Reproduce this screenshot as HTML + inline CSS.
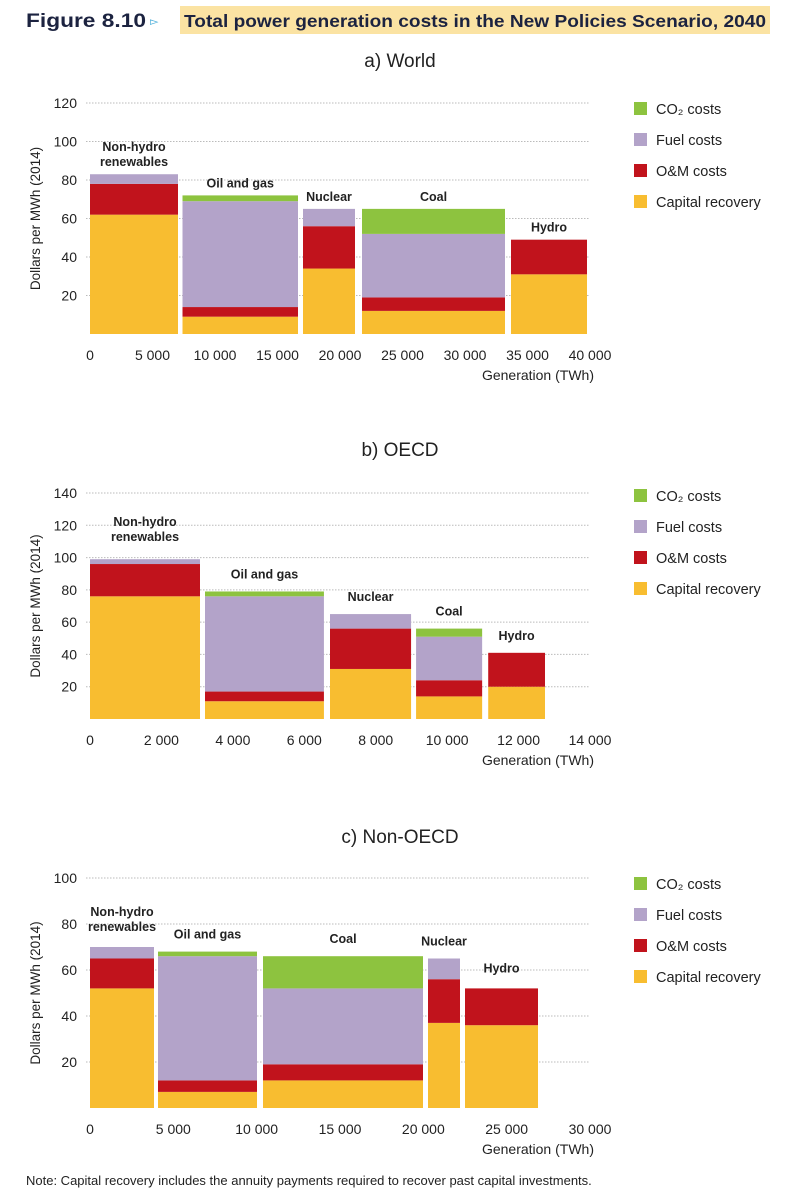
<!DOCTYPE html>
<html><head><meta charset="utf-8"><style>
body{margin:0;background:#fff;width:789px;height:1200px;overflow:hidden}
svg{display:block;font-family:"Liberation Sans",sans-serif}
</style></head><body>
<svg id="s" width="789" height="1200" viewBox="0 0 789 1200">
<text x="26" y="27" font-size="19" font-weight="bold" fill="#1c2340" textLength="120" lengthAdjust="spacingAndGlyphs">Figure 8.10</text>
<text x="150" y="25" font-size="11" fill="#3aa7d6">▻</text>
<rect x="180" y="6" width="590" height="28" fill="#fbe3a3"/>
<text x="184" y="27" font-size="17.5" font-weight="bold" fill="#1c2340" textLength="582" lengthAdjust="spacingAndGlyphs">Total power generation costs in the New Policies Scenario, 2040</text>
<text x="26" y="1185" font-size="13" fill="#222">Note: Capital recovery includes the annuity payments required to recover past capital investments.</text>
</svg>
<script>
const seriesNames=["Capital recovery","O&M costs","Fuel costs","CO₂ costs"];
const colors=["#f8bd30","#c1131c","#b3a3c9","#8dc33f"];
// Panel a World
const aCats=["Non-hydro\nrenewables","Oil and gas","Nuclear","Coal","Hydro"];
const aStart=[0,7400,17040,21760,33680];
const aEnd=[7040,16640,21200,33200,39760];
const aCap=[62,9,34,12,31];
const aOM=[16,5,22,7,18];
const aFuel=[5,55,9,33,0];
const aCO2=[0,3,0,13,0];
const aTicksY=[20,40,60,80,100,120];
const aTicksX=[0,5000,10000,15000,20000,25000,30000,35000,40000];
// Panel b OECD
const bCats=["Non-hydro\nrenewables","Oil and gas","Nuclear","Coal","Hydro"];
const bStart=[0,3220,6720,9130,11150];
const bEnd=[3080,6550,8990,10980,12740];
const bCap=[76,11,31,14,20];
const bOM=[20,6,25,10,21];
const bFuel=[3,59,9,27,0];
const bCO2=[0,3,0,5,0];
const bTicksY=[20,40,60,80,100,120,140];
const bTicksX=[0,2000,4000,6000,8000,10000,12000,14000];
// Panel c Non-OECD
const cCats=["Non-hydro\nrenewables","Oil and gas","Coal","Nuclear","Hydro"];
const cStart=[0,4080,10380,20280,22500];
const cEnd=[3840,10020,19980,22200,26880];
const cCap=[52,7,12,37,36];
const cOM=[13,5,7,19,16];
const cFuel=[5,54,33,9,0];
const cCO2=[0,2,14,0,0];
const cTicksY=[20,40,60,80,100];
const cTicksX=[0,5000,10000,15000,20000,25000,30000];

const NS="http://www.w3.org/2000/svg";
const svg=document.getElementById('s');
function el(tag,attrs,parent,text){const e=document.createElementNS(NS,tag);for(const k in attrs)e.setAttribute(k,attrs[k]);if(text!==undefined)e.textContent=text;(parent||svg).appendChild(e);return e;}
function fmt(v){return v===0?"0":String(v).replace(/\B(?=(\d{3})+(?!\d))/g," ");}
function panel(cfg){
  const g=el('g',{});
  
  
  const x=v=>90+v/cfg.xmax*500;
  const y=v=>cfg.y0-v/cfg.ymax*(cfg.y0-cfg.ytop);
  const t=el('text',{x:400,y:cfg.titleY,'font-size':19,'text-anchor':'middle',fill:'#222'},g,cfg.title);
  
  cfg.ticksY.forEach(v=>{
    const l=el('line',{x1:86,x2:590,y1:y(v),y2:y(v),stroke:'#bbb','stroke-dasharray':'1.5 1.5','stroke-width':1},g);
    
    const tx=el('text',{x:77,y:y(v)+5,'font-size':14,'text-anchor':'end',fill:'#222'},g,String(v));
    
  });
  cfg.ticksX.forEach(v=>{
    const tx=el('text',{x:x(v),y:cfg.y0+26,'font-size':14,'text-anchor':'middle',fill:'#222'},g,fmt(v));
    
  });
  const xt=el('text',{x:594,y:cfg.y0+46,'font-size':14,'text-anchor':'end',fill:'#222'},g,'Generation (TWh)');
  
  const ym=(cfg.y0+cfg.ytop)/2;
  const yt=el('text',{x:40,y:ym,'font-size':13.5,'text-anchor':'middle',fill:'#222',transform:`rotate(-90 40 ${ym})`},g,'Dollars per MWh (2014)');
  
  const series=[cfg.cap,cfg.om,cfg.fuel,cfg.co2];
  cfg.cats.forEach((c,i)=>{
    let base=0;
    series.forEach((s,k)=>{
      if(s[i]<=0)return;
      const r=el('rect',{x:x(cfg.start[i]),width:x(cfg.end[i])-x(cfg.start[i]),y:y(base+s[i]),height:y(base)-y(base+s[i]),fill:colors[k]},g);
      
      base+=s[i];
    });
    const lines=c.split('\n');
    const cx=(x(cfg.start[i])+x(cfg.end[i]))/2;
    lines.forEach((ln,j)=>{
      const lt=el('text',{x:cx,y:y(base)-8-(lines.length-1-j)*15+(cfg.lblOff[i]||0),'font-size':12.5,'font-weight':'bold','text-anchor':'middle',fill:'#222'},g,ln);
      
    });
  });
  for(let k=3;k>=0;k--){
    const ly=cfg.legY+(3-k)*31;
    const sq=el('rect',{x:634,y:ly-7,width:13,height:13,fill:colors[k]},g);
    
    const lt=el('text',{x:656,y:ly+5,'font-size':14.5,fill:'#222'},g,seriesNames[k]);
    
  }
}
panel({id:'world',title:'a) World',titleY:67,xmax:40000,ymax:120,y0:334,ytop:103,ticksY:aTicksY,ticksX:aTicksX,cats:aCats,start:aStart,end:aEnd,cap:aCap,om:aOM,fuel:aFuel,co2:aCO2,legY:109,lblOff:[0,0,0,0,0]});
panel({id:'oecd',title:'b) OECD',titleY:456,xmax:14000,ymax:140,y0:719,ytop:493,ticksY:bTicksY,ticksX:bTicksX,cats:bCats,start:bStart,end:bEnd,cap:bCap,om:bOM,fuel:bFuel,co2:bCO2,legY:496,lblOff:[-10,-5,-5,-5,-5]});
panel({id:'nonoecd',title:'c) Non-OECD',titleY:843,xmax:30000,ymax:100,y0:1108,ytop:878,ticksY:cTicksY,ticksX:cTicksX,cats:cCats,start:cStart,end:cEnd,cap:cCap,om:cOM,fuel:cFuel,co2:cCO2,legY:884,lblOff:[-8,-5,-5,-5,-8]});
</script>
</body></html>
